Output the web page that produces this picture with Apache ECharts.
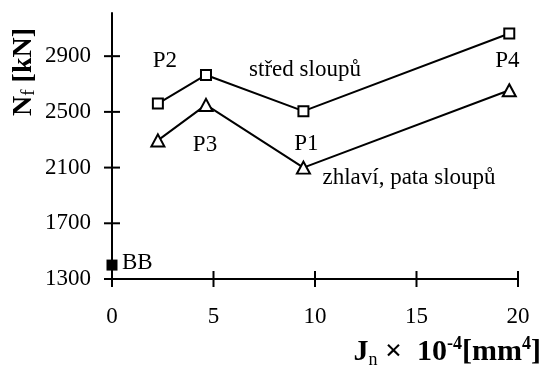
<!DOCTYPE html>
<html>
<head>
<meta charset="utf-8">
<script src="https://cdn.jsdelivr.net/npm/echarts@6/dist/echarts.min.js"></script>
<style>
  html, body { margin: 0; padding: 0; background: #ffffff; }
  #chart { width: 544px; height: 365px; }
</style>
</head>
<body>
<div id="chart"></div>
<script>
// Second moment of area J_n (x 10^-4 mm^4) for the column variants P2, P3, P1, P4
const J = [2.26, 4.63, 9.43, 19.57];
// Failure load N_f [kN] measured at mid-height of the columns
const stredSloupu = [2560, 2765, 2505, 3063];
// Failure load N_f [kN] measured at the column head / foot
const zhlaviPata = [2295, 2550, 2100, 2655];
// Reference variant without stiffening
const bbPoint = [0, 1400];
const bbTag = 'BB';

// Text attached to the points of each series
const stredTags = ['P2', 'střed sloupů', 'P1', ''];
const zhlaviTags = ['', 'P3', 'zhlaví, pata sloupů', 'P4'];

const yTicks = [1300, 1700, 2100, 2500, 2900];
const xTicks = [0, 5, 10, 15, 20];

const FONT = "'Liberation Serif', 'Times New Roman', serif";
const INK = '#000000';

// label placement around each point (style only)
const stredLabelStyle = [
  { offset: [7, -43] },
  { offset: [99, -5] },
  { offset: [3, 33] },
  {}
];
const zhlaviLabelStyle = [
  {},
  { offset: [-1, 40] },
  { offset: [19, 10], align: 'left' },
  { offset: [-2, -29] }
];

function buildData(xs, ys, tags, styles) {
  return xs.map((x, i) => {
    const item = { value: [x, ys[i]] };
    if (tags[i]) {
      item.label = Object.assign({
        show: true,
        position: 'inside',
        formatter: tags[i],
        align: 'center',
        verticalAlign: 'middle'
      }, styles[i]);
    }
    return item;
  });
}

const labelText = { color: INK, fontFamily: FONT, fontSize: 23 };
const plainNumber = v => String(v);

const chart = echarts.init(document.getElementById('chart'), null, { renderer: 'canvas' });

const axisStroke = { color: INK, width: 2 };
const TICK_HALF = 8;

const titleGraphics = [
  {
    type: 'text',
    x: 24, y: 72,
    rotation: Math.PI / 2,
    style: {
      text: '{b|N}{f|f}{b| [kN]}',
      align: 'center',
      verticalAlign: 'middle',
      fill: INK,
      rich: {
        b: { fontFamily: FONT, fontSize: 28, fontWeight: 'bold', lineHeight: 30,
             verticalAlign: 'middle', fill: INK },
        f: { fontFamily: FONT, fontSize: 19, fontWeight: 'normal', lineHeight: 22,
             verticalAlign: 'bottom', fill: INK }
      }
    }
  },
  {
    type: 'text',
    x: 541, y: 352,
    style: {
      text: '{b|J}{sub|n}{b| ×  10}{sup|-4}{b|[mm}{sup|4}{b|]}',
      align: 'right',
      verticalAlign: 'middle',
      fill: INK,
      rich: {
        b: { fontFamily: FONT, fontSize: 30, fontWeight: 'bold', lineHeight: 34,
             verticalAlign: 'middle', fill: INK },
        sub: { fontFamily: FONT, fontSize: 18, fontWeight: 'normal', lineHeight: 18,
               verticalAlign: 'bottom', fill: INK },
        sup: { fontFamily: FONT, fontSize: 18, fontWeight: 'bold', lineHeight: 18,
               verticalAlign: 'top', fill: INK }
      }
    }
  }
];

chart.setOption({
  animation: false,
  backgroundColor: '#ffffff',
  grid: { left: 112, right: 26, top: 13, bottom: 86, containLabel: false },
  xAxis: {
    type: 'value', min: 0, max: 20, interval: 5,
    axisLine: { show: true, onZero: false, lineStyle: axisStroke },
    axisTick: { show: false },
    axisLabel: { show: true, margin: 26, color: INK, fontFamily: FONT, fontSize: 23,
                 customValues: xTicks, formatter: plainNumber },
    splitLine: { show: false }
  },
  yAxis: {
    type: 'value', min: 1300, max: 3210,
    axisLine: { show: true, onZero: false, lineStyle: axisStroke },
    axisTick: { show: false },
    axisLabel: { show: true, margin: 21, color: INK, fontFamily: FONT, fontSize: 23,
                 customValues: yTicks, formatter: plainNumber },
    splitLine: { show: false }
  },
  series: [
    {
      name: 'střed sloupů',
      type: 'line',
      clip: false,
      data: buildData(J, stredSloupu, stredTags, stredLabelStyle),
      symbol: 'rect',
      symbolSize: 10,
      showAllSymbol: true,
      lineStyle: { color: INK, width: 2 },
      itemStyle: { color: '#ffffff', borderColor: INK, borderWidth: 2 },
      label: labelText,
      z: 3
    },
    {
      name: 'zhlaví, pata sloupů',
      type: 'line',
      clip: false,
      data: buildData(J, zhlaviPata, zhlaviTags, zhlaviLabelStyle),
      symbol: 'triangle',
      symbolSize: [13, 12],
      showAllSymbol: true,
      lineStyle: { color: INK, width: 2 },
      itemStyle: { color: '#ffffff', borderColor: INK, borderWidth: 2 },
      label: labelText,
      z: 3
    },
    {
      name: bbTag,
      type: 'scatter',
      clip: false,
      data: [{
        value: bbPoint,
        label: { show: true, position: 'inside', formatter: bbTag,
                 align: 'left', verticalAlign: 'middle', offset: [10, -2] }
      }],
      symbol: 'rect',
      symbolSize: 11,
      itemStyle: { color: INK, opacity: 1 },
      label: labelText,
      z: 4
    }
  ],
  graphic: titleGraphics
});

// Tick marks crossing both axis lines, placed through the axis scales
const originX = chart.convertToPixel({ xAxisIndex: 0 }, xTicks[0]);
const originY = chart.convertToPixel({ yAxisIndex: 0 }, yTicks[0]);
const tickMarks = [];
xTicks.forEach(v => {
  const px = chart.convertToPixel({ xAxisIndex: 0 }, v);
  tickMarks.push({
    type: 'line', silent: true, z: 10,
    shape: { x1: px, y1: originY - TICK_HALF, x2: px, y2: originY + TICK_HALF },
    style: { stroke: INK, lineWidth: 2 }
  });
});
yTicks.forEach(v => {
  const py = chart.convertToPixel({ yAxisIndex: 0 }, v);
  tickMarks.push({
    type: 'line', silent: true, z: 10,
    shape: { x1: originX - TICK_HALF, y1: py, x2: originX + TICK_HALF, y2: py },
    style: { stroke: INK, lineWidth: 2 }
  });
});
chart.setOption({ graphic: titleGraphics.concat(tickMarks) });
</script>
</body>
</html>
